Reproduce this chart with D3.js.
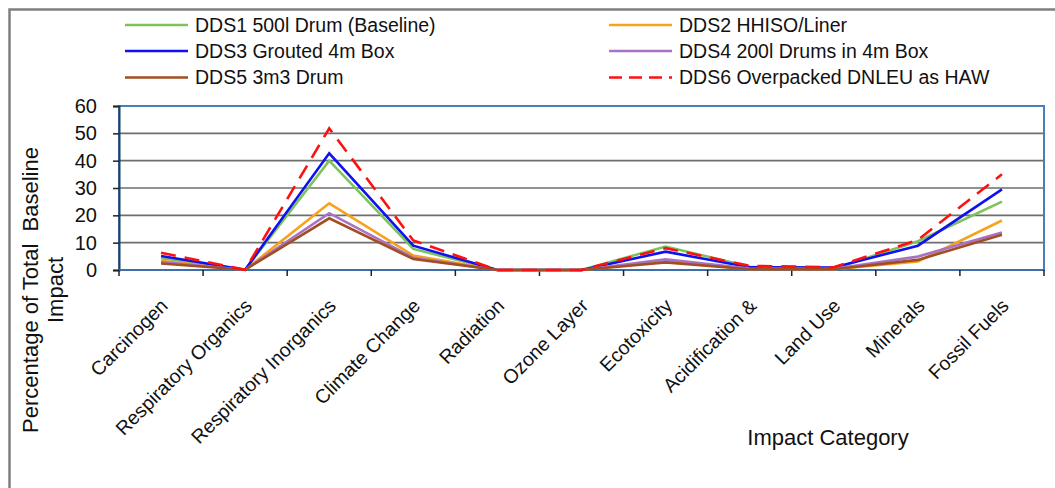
<!DOCTYPE html>
<html>
<head>
<meta charset="utf-8">
<script src="https://cdn.jsdelivr.net/npm/d3@7"></script>
<style>
  html, body { margin: 0; padding: 0; background: #fff; }
  svg { display: block; font-family: "Liberation Sans", Arial, sans-serif; }
  text { white-space: pre; }
</style>
</head>
<body>
<svg id="chart" width="1055" height="488"></svg>
<script>
// Impact categories along the x axis
const categories = [
  "Carcinogen", "Respiratory Organics", "Respiratory Inorganics", "Climate Change",
  "Radiation", "Ozone Layer", "Ecotoxicity", "Acidification &", "Land Use",
  "Minerals", "Fossil Fuels"
];

// Series names (legend order)
const seriesNames = [
  "DDS1 500l Drum (Baseline)", "DDS2 HHISO/Liner", "DDS3 Grouted 4m Box",
  "DDS4 200l Drums in 4m Box", "DDS5 3m3 Drum", "DDS6 Overpacked DNLEU as HAW"
];

// Percentage of total baseline impact, per category
const dds1 = [4.3, 0.1, 40.0, 7.7, 0, 0, 8.6, 1.2, 0.5, 10.5, 25.0];
const dds2 = [3.4, 0.1, 24.4, 5.3, 0, 0, 3.2, 0.4, 0.3, 3.1, 18.1];
const dds3 = [5.1, 0.1, 42.7, 8.9, 0, 0, 6.7, 1.0, 0.9, 8.9, 29.5];
const dds4 = [2.9, 0.1, 20.8, 4.5, 0, 0, 3.9, 0.5, 0.4, 4.9, 13.7];
const dds5 = [2.4, 0.1, 18.9, 4.0, 0, 0, 2.8, 0.3, 0.3, 3.7, 12.9];
const dds6 = [6.3, 0.1, 51.8, 10.8, 0, 0, 8.0, 1.5, 1.0, 11.0, 35.0];

const yTicks = [0, 10, 20, 30, 40, 50, 60];

const seriesValues = [dds1, dds2, dds3, dds4, dds5, dds6];
const colors = ["#7cc35a", "#f7a21b", "#1010f0", "#a873c4", "#a24d22", "#ff1010"];
const dashes = [null, null, null, null, null, "15,9"];

const svg = d3.select("#chart");

// outer frame (top and left edges visible)
svg.append("path")
  .attr("d", "M9.5,488 L9.5,9.5 L1055,9.5")
  .attr("fill", "none")
  .attr("stroke", "#7f7f7f")
  .attr("stroke-width", 2.5);

const plot = { left: 119, right: 1044, top: 106, bottom: 270 };

const x = d3.scaleBand().domain(categories).range([plot.left, plot.right]).padding(0);
const cx = d => x(d) + x.bandwidth() / 2;
const y = d3.scaleLinear().domain([0, 60]).range([plot.bottom, plot.top]);

// horizontal gridlines
svg.append("g")
  .selectAll("line")
  .data(yTicks.filter(t => t > 0 && t < 60))
  .join("line")
  .attr("x1", plot.left).attr("x2", plot.right)
  .attr("y1", d => y(d)).attr("y2", d => y(d))
  .attr("stroke", "#6e6e6e")
  .attr("stroke-width", 1.6);

// plot area border
svg.append("rect")
  .attr("x", plot.left).attr("y", plot.top)
  .attr("width", plot.right - plot.left).attr("height", plot.bottom - plot.top)
  .attr("fill", "none")
  .attr("stroke", "#4a7ebb")
  .attr("stroke-width", 2);

// y axis
const yAxis = d3.axisLeft(y).tickValues(yTicks).tickSize(6).tickPadding(16);
const gy = svg.append("g").attr("transform", `translate(${plot.left},0)`).call(yAxis);
gy.select(".domain").attr("stroke", "#1f3f66").attr("stroke-width", 2);
gy.selectAll(".tick line").attr("stroke", "#222").attr("stroke-width", 1.5);
gy.selectAll(".tick text")
  .attr("font-size", 20)
  .attr("font-family", "'Liberation Sans', Arial, sans-serif")
  .attr("fill", "#111");

// x axis: ticks at category boundaries
const boundaries = categories.map(c => x(c)).concat([plot.right]);
const gx = svg.append("g");
gx.append("line")
  .attr("x1", plot.left).attr("x2", plot.right)
  .attr("y1", plot.bottom).attr("y2", plot.bottom)
  .attr("stroke", "#3f6fa8").attr("stroke-width", 2);
gx.selectAll("line.tk")
  .data(boundaries)
  .join("line")
  .attr("class", "tk")
  .attr("x1", d => d).attr("x2", d => d)
  .attr("y1", plot.bottom).attr("y2", plot.bottom + 6)
  .attr("stroke", "#222").attr("stroke-width", 1.5);

gx.selectAll("text")
  .data(categories)
  .join("text")
  .attr("transform", d => `translate(${cx(d) + 8},${plot.bottom + 37}) rotate(-45)`)
  .attr("text-anchor", "end")
  .attr("font-size", 19.5)
  .attr("fill", "#111")
  .text(d => d);

// series lines
const line = d3.line()
  .x((d, i) => cx(categories[i]))
  .y(d => y(d));

svg.append("g")
  .selectAll("path")
  .data(seriesValues)
  .join("path")
  .attr("d", d => line(d))
  .attr("fill", "none")
  .attr("stroke", (d, i) => colors[i])
  .attr("stroke-width", 2.6)
  .attr("stroke-dasharray", (d, i) => dashes[i])
  .attr("stroke-linejoin", "miter");

// legend
const legendPos = [
  { lx: 125, tx: 195, ty: 25 }, { lx: 609, tx: 679, ty: 25 },
  { lx: 125, tx: 195, ty: 51 }, { lx: 609, tx: 679, ty: 51 },
  { lx: 125, tx: 195, ty: 77.5 }, { lx: 609, tx: 679, ty: 77.5 }
];
const legend = svg.append("g")
  .selectAll("g")
  .data(seriesNames)
  .join("g");
legend.append("line")
  .attr("x1", (d, i) => legendPos[i].lx)
  .attr("x2", (d, i) => legendPos[i].lx + 63)
  .attr("y1", (d, i) => legendPos[i].ty)
  .attr("y2", (d, i) => legendPos[i].ty)
  .attr("stroke", (d, i) => colors[i])
  .attr("stroke-width", 2.6)
  .attr("stroke-dasharray", (d, i) => dashes[i] ? "13,7" : null);
legend.append("text")
  .attr("x", (d, i) => legendPos[i].tx)
  .attr("y", (d, i) => legendPos[i].ty)
  .attr("dy", "0.35em")
  .attr("font-size", 19.5)
  .attr("fill", "#111")
  .text(d => d);

// axis titles
svg.append("text")
  .attr("transform", "translate(38,290) rotate(-90)")
  .attr("text-anchor", "middle")
  .attr("font-size", 22)
  .attr("fill", "#111")
  .text("Percentage of Total  Baseline");
svg.append("text")
  .attr("transform", "translate(63,290) rotate(-90)")
  .attr("text-anchor", "middle")
  .attr("font-size", 22)
  .attr("fill", "#111")
  .text("Impact");
svg.append("text")
  .attr("x", 828).attr("y", 437)
  .attr("dy", "0.35em")
  .attr("text-anchor", "middle")
  .attr("font-size", 22)
  .attr("fill", "#111")
  .text("Impact Category");
</script>
</body>
</html>
